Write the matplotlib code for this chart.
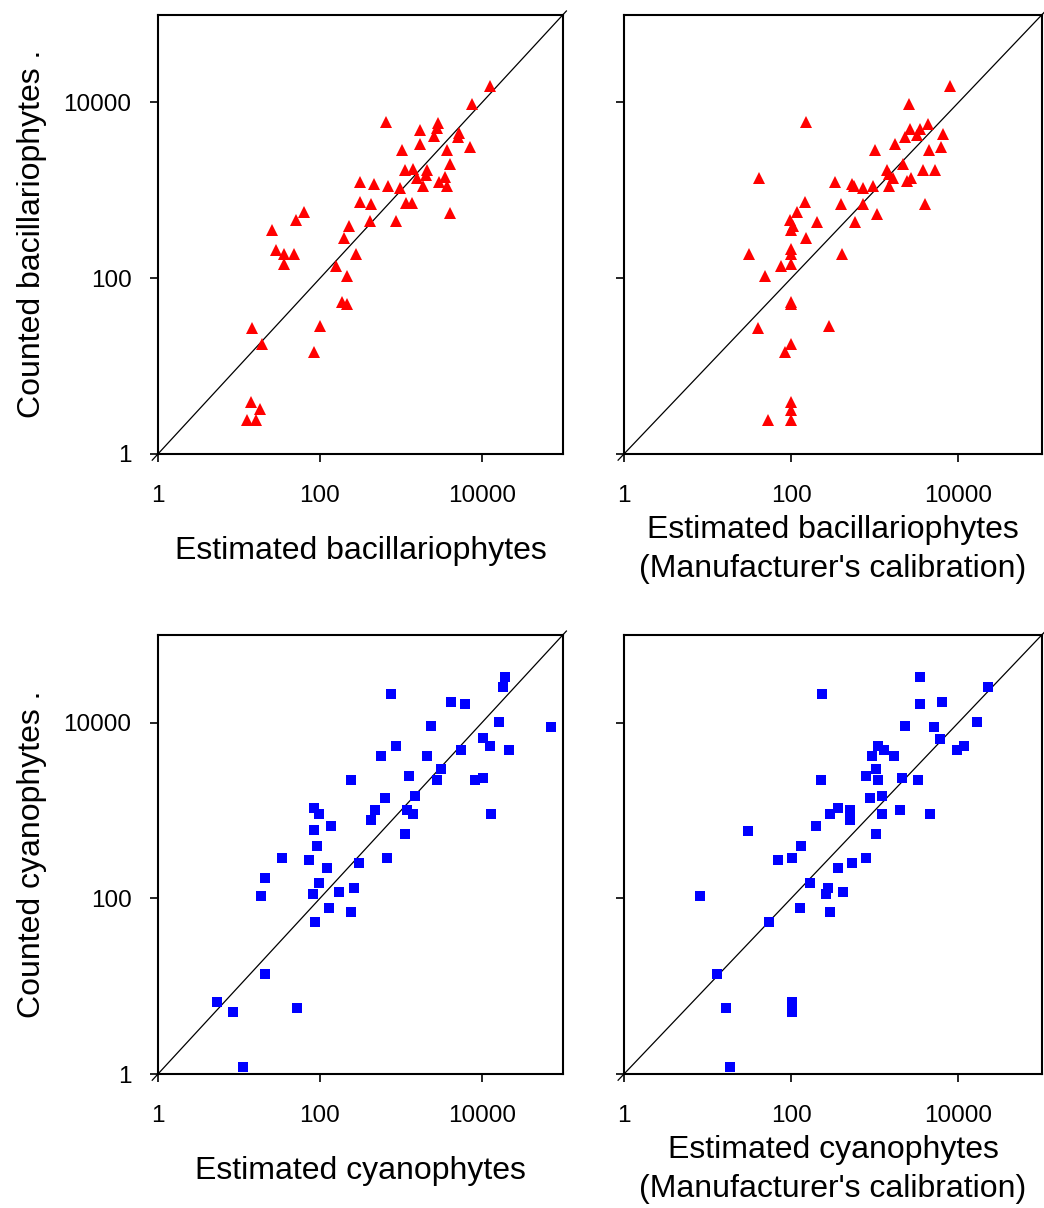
import matplotlib
matplotlib.use('Agg')
import matplotlib.pyplot as plt

plt.rcParams['font.family'] = ['Liberation Sans', 'DejaVu Sans']

# bacillariophytes, own calibration (estimated, counted)
bac_est = [12400, 7460, 656, 1710, 2870, 2760, 2560, 5210, 5060, 1710,
           1015, 3740, 7050, 4035, 1136, 1413, 2100, 2042, 1597, 1893,
           2980, 3500, 3740, 314, 459, 688, 977, 314, 429, 1169,
           1386, 4035, 864, 413, 225, 199, 64, 51, 25.4, 28.7,
           36.4, 48.3, 36.4, 280, 157, 213, 185, 213, 14.5, 100,
           19.1, 84, 14.0, 18.1, 12.7, 16.4]
bac_cnt = [15400, 9540, 6000, 4870, 5800, 5080, 4200, 4460, 4020, 3370,
           2880, 2880, 3090, 1996, 1707, 1738, 1707, 1510, 1372, 1132,
           1257, 1433, 1122, 1246, 1193, 1132, 1056, 744, 706, 713,
           713, 548, 445, 445, 394, 285, 573, 460, 354, 210,
           189, 191, 145, 189, 138, 106, 54, 51, 26.9, 28.9,
           17.9, 14.6, 3.94, 3.22, 2.44, 2.44]

# bacillariophytes, manufacturer's calibration
bacm_est = [7870, 2540, 152, 4330, 2610, 3440, 3200, 2300, 6540, 1760,
            1005, 4450, 6250, 2155, 3770, 5200, 1413, 1466, 1667, 1466,
            2450, 2685, 331, 539, 564, 716, 943, 41.2, 145, 391,
            729, 3950, 1062, 117, 97.7, 105, 100, 202, 574, 152,
            31, 100, 100, 100, 74.8, 409, 48.2, 100, 100, 40.4,
            281, 100, 84.3, 100, 100, 100, 53.3]
bacm_cnt = [15400, 9540, 6000, 5750, 4950, 5040, 4270, 4020, 4385, 3370,
            2880, 2880, 3090, 1996, 1707, 1707, 1707, 1524, 1372, 1132,
            1268, 1396, 1246, 1193, 1132, 1056, 1122, 1372, 738, 706,
            706, 706, 539, 568, 460, 394, 354, 437, 441, 285,
            189, 213, 187, 145, 138, 189, 106, 54, 50.5, 26.9,
            28.6, 17.9, 14.6, 3.94, 3.17, 2.44, 2.44]

# cyanophytes, own calibration
cya_est = [19050, 18000, 745, 4100, 6110, 16060, 70460, 2325, 10190, 12560,
           859, 561, 2075, 5455, 21340, 3090, 1244, 2755, 8120, 10190,
           239, 629, 1475, 473, 1175, 1394, 422, 12790, 1110, 83.5,
           96.3, 83.5, 135, 91, 33.6, 72.4, 121, 300, 665, 20.7,
           96.3, 18.5, 81.2, 170, 260, 128, 239, 86, 20.7, 5.3,
           8.35, 51.5, 11.1]
cya_cnt = [33300, 25150, 21100, 17130, 16250, 10050, 8820, 9050, 6670, 5360,
           5360, 4125, 4125, 4830, 4830, 2933, 2442, 2198, 2198, 2317,
           2198, 1372, 1445, 1002, 1002, 902, 771, 902, 534, 1056,
           902, 593, 659, 390, 285, 270, 219, 250, 285, 169,
           148, 105, 111, 117, 130, 76.8, 69.2, 53.2, 13.6, 6.54,
           5.03, 5.59, 1.19]

# cyanophytes, manufacturer's calibration
cyam_est = [3440, 22600, 234, 3440, 6370, 16550, 2277, 5060, 5970, 1092,
            1288, 934, 1698, 9530, 11670, 1033, 778, 1082, 2115, 3258,
            227, 868, 1219, 363, 500, 500, 288, 1219, 1983, 4573,
            196, 1033, 30.4, 131, 68.9, 102, 363, 529, 785, 168,
            8.11, 275, 261, 417, 127, 291, 54.3, 12.9, 16.6, 102,
            102, 18.5]
cyam_cnt = [32700, 25150, 21100, 16250, 17130, 10050, 9050, 8820, 6500, 5360,
            4830, 4125, 4125, 4830, 5360, 2933, 2442, 2198, 2317, 2198,
            2198, 1372, 1445, 1056, 1002, 771, 902, 902, 1002, 902,
            659, 534, 583, 390, 270, 285, 219, 250, 285, 148,
            105, 130, 111, 117, 76.8, 69.2, 53.2, 13.6, 5.59, 6.54,
            5.03, 1.19]

ticks = [1, 100, 10000]
tick_labels = ['1', '100', '10000']
lims = (1, 100000)

fig = plt.figure(figsize=(10.44, 12.08), dpi=100)

# left, bottom, width, height in figure fractions
panels = [
    ([0.1513, 0.6242, 0.3880, 0.3637], bac_est, bac_cnt, '^', 'red', 8.0,
     'Estimated bacillariophytes', 'Counted bacillariophytes .'),
    ([0.5977, 0.6242, 0.4004, 0.3637], bacm_est, bacm_cnt, '^', 'red', 8.0,
     "Estimated bacillariophytes\n(Manufacturer's calibration)", None),
    ([0.1513, 0.1109, 0.3880, 0.3637], cya_est, cya_cnt, 's', 'blue', 6.5,
     'Estimated cyanophytes', 'Counted cyanophytes .'),
    ([0.5977, 0.1109, 0.4004, 0.3637], cyam_est, cyam_cnt, 's', 'blue', 6.5,
     "Estimated cyanophytes\n(Manufacturer's calibration)", None),
]

for rect, x, y, mk, col, ms, xlab, ylab in panels:
    ax = fig.add_axes(rect)
    ax.set_xscale('log')
    ax.set_yscale('log')
    ax.set_xlim(lims)
    ax.set_ylim(lims)
    # 1:1 line
    ax.plot([0.85, 1.1e5], [0.85, 1.1e5], color='black', linewidth=0.9,
            clip_on=False, zorder=1)
    ax.plot(x, y, linestyle='none', marker=mk, color=col, markersize=ms,
            markeredgewidth=0, zorder=2)
    ax.set_xticks(ticks)
    ax.set_xticklabels(tick_labels)
    ax.set_yticks(ticks)
    if ylab is not None:
        ax.set_yticklabels(tick_labels)
        ax.set_ylabel(ylab, fontsize=23, labelpad=12)
    else:
        ax.set_yticklabels([])
    ax.minorticks_off()
    ax.tick_params(direction='out', length=6, width=1.2, labelsize=17.5,
                   top=False, right=False)
    ax.tick_params(axis='x', pad=16)
    ax.tick_params(axis='y', pad=13)
    if '\n' in xlab:
        ax.set_xlabel(xlab, fontsize=23, labelpad=6, linespacing=1.38)
    else:
        ax.set_xlabel(xlab, fontsize=23, labelpad=21)
    for s in ax.spines.values():
        s.set_linewidth(1.5)

fig.savefig('out.png', dpi=100)
